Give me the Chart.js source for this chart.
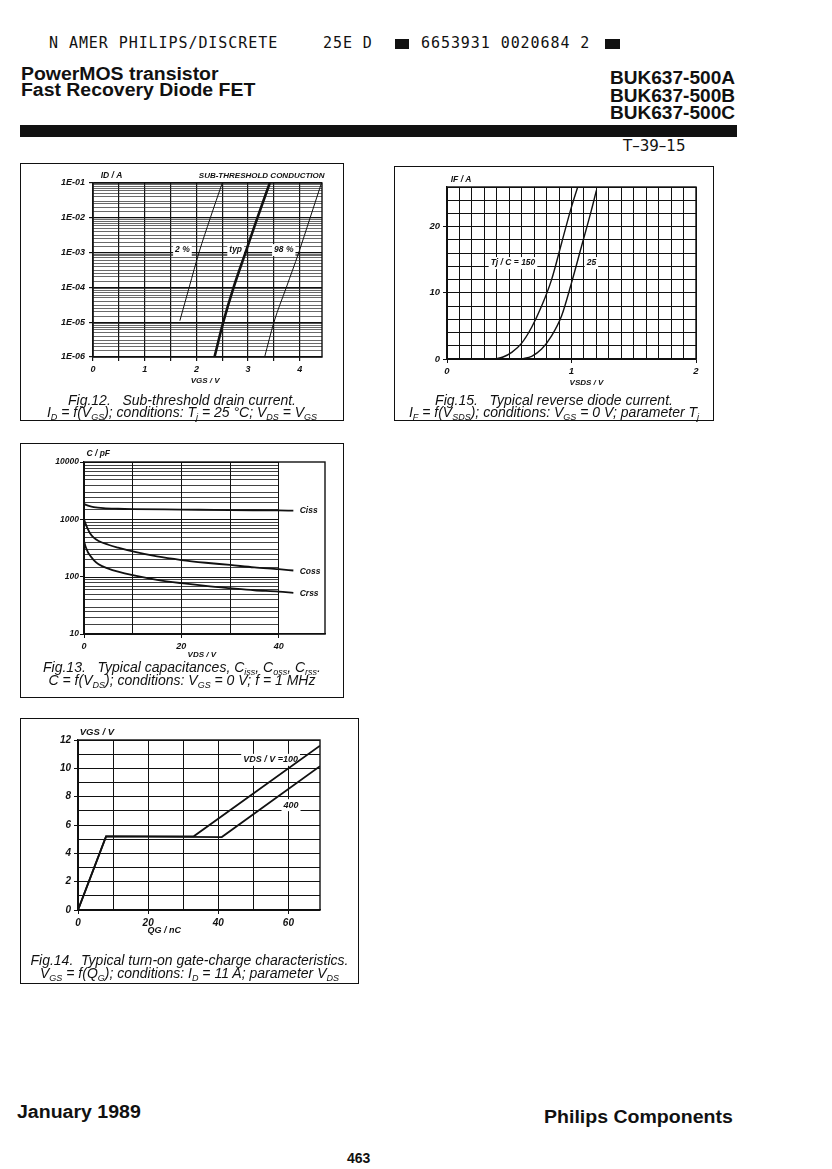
<!DOCTYPE html>
<html>
<head>
<meta charset="utf-8">
<script src="https://cdn.jsdelivr.net/npm/chart.js@4.4.1/dist/chart.umd.min.js"></script>
<style>
body { margin: 0; background: #fff; }
#page { position: relative; width: 832px; height: 1169px; overflow: hidden; background: #fff;
  font-family: 'Liberation Sans', Arial, sans-serif; color: #111; }
.abs { position: absolute; white-space: nowrap; line-height: 1; }
.hd { font-weight: bold; font-size: 17.5px; transform: scaleX(1.11); transform-origin: 0 0; }
.ft { font-weight: bold; font-size: 18px; transform: scaleX(1.085); transform-origin: 0 0; }
.hdr { font-weight: bold; font-size: 18px; transform: scaleX(1.06); transform-origin: 100% 0; text-align: right; }
.dm { font-family: 'DejaVu Sans Mono', monospace; font-size: 15px; letter-spacing: 0.93px; }
.sq { position: absolute; background: #111; }
.box { position: absolute; border: 1.5px solid #111; box-sizing: border-box; }
.cap { position: absolute; font-style: italic; font-size: 14px; text-align: center; line-height: 1; white-space: nowrap; }
.cap sub { font-size: 9px; vertical-align: -3px; line-height: 0; }
canvas { position: absolute; }
</style>
</head>
<body>
<div id="page">
  <div class="abs dm" style="left:49px;top:36px">N AMER PHILIPS/DISCRETE</div>
  <div class="abs dm" style="left:323px;top:36px">25E D</div>
  <div class="sq" style="left:395px;top:39px;width:14px;height:10px"></div>
  <div class="abs dm" style="left:421px;top:36px">6653931 0020684 2</div>
  <div class="sq" style="left:605px;top:39px;width:15px;height:10px"></div>

  <div class="abs hd" style="left:21px;top:66px">PowerMOS transistor</div>
  <div class="abs hd" style="left:21px;top:82px">Fast Recovery Diode FET</div>
  <div class="abs hdr" style="right:97px;top:69px">BUK637-500A</div>
  <div class="abs hdr" style="right:97px;top:87px">BUK637-500B</div>
  <div class="abs hdr" style="right:97px;top:104px">BUK637-500C</div>
  <div class="sq" style="left:20px;top:125px;width:717px;height:12px"></div>
  <div class="abs" style="left:623px;top:138px;font-family:'DejaVu Sans',sans-serif;font-size:16px;transform:scaleX(0.94);transform-origin:0 0">T–39–15</div>

  <div class="box" style="left:20px;top:163px;width:324px;height:258px"></div>
  <div class="box" style="left:394px;top:166px;width:320px;height:255px"></div>
  <div class="box" style="left:20px;top:443px;width:324px;height:255px"></div>
  <div class="box" style="left:20px;top:718px;width:339px;height:266px"></div>

  <canvas id="fig12"></canvas>
  <canvas id="fig15"></canvas>
  <canvas id="fig13"></canvas>
  <canvas id="fig14"></canvas>

  <div class="cap" style="left:20px;width:324px;top:393px">Fig.12.&nbsp;&nbsp; Sub-threshold drain current.</div>
  <div class="cap" style="left:20px;width:324px;top:405px">I<sub>D</sub> = f(V<sub>GS</sub>); conditions: T<sub>j</sub> = 25 °C; V<sub>DS</sub> = V<sub>GS</sub></div>

  <div class="cap" style="left:394px;width:320px;top:393px">Fig.15.&nbsp;&nbsp; Typical reverse diode current.</div>
  <div class="cap" style="left:394px;width:320px;top:405px">I<sub>F</sub> = f(V<sub>SDS</sub>); conditions: V<sub>GS</sub> = 0 V; parameter T<sub>j</sub></div>

  <div class="cap" style="left:20px;width:324px;top:660px">Fig.13.&nbsp;&nbsp; Typical capacitances, C<sub>iss</sub>, C<sub>oss</sub>, C<sub>rss</sub>.</div>
  <div class="cap" style="left:20px;width:324px;top:673px">C = f(V<sub>DS</sub>); conditions: V<sub>GS</sub> = 0 V; f = 1 MHz</div>

  <div class="cap" style="left:20px;width:339px;top:953px">Fig.14.&nbsp; Typical turn-on gate-charge characteristics.</div>
  <div class="cap" style="left:20px;width:339px;top:966px">V<sub>GS</sub> = f(Q<sub>G</sub>); conditions: I<sub>D</sub> = 11 A; parameter V<sub>DS</sub></div>

  <div class="abs ft" style="left:17px;top:1103px">January 1989</div>
  <div class="abs ft" style="left:544px;top:1108px">Philips Components</div>
  <div class="abs" style="left:347px;top:1151px;font-size:14px;font-weight:bold">463</div>
</div>

<script>
// Fig.12 sub-threshold drain current: VGS / V against ID / A
const vgs2 = [1.68, 1.86, 2.05, 2.27, 2.5];
const id2 = [1.1e-5, 1e-4, 1e-3, 1e-2, 1e-1];
const vgsTyp = [2.35, 2.52, 2.72, 2.95, 3.18, 3.42];
const idTyp = [1e-6, 1e-5, 1e-4, 1e-3, 1e-2, 1e-1];
const vgs98 = [3.32, 3.5, 3.74, 3.98, 4.2, 4.42];
const id98 = [1e-6, 1e-5, 1e-4, 1e-3, 1e-2, 1e-1];
const vgsTicks = [0, 0.5, 1, 1.5, 2, 2.5, 3, 3.5, 4];

// Fig.15 reverse diode current: VSDS / V against IF / A
const vsd150 = [0.38, 0.45, 0.52, 0.6, 0.68, 0.76, 0.84, 0.92, 1.0, 1.05];
const if150 = [0, 0.3, 1.0, 2.4, 4.8, 8, 12, 17.5, 23, 26];
const vsd25 = [0.6, 0.68, 0.76, 0.84, 0.92, 1.0, 1.08, 1.16, 1.2];
const if25 = [0, 0.4, 1.5, 3.5, 6.5, 11.5, 17, 22.5, 25.5];

// Fig.13 capacitances: VDS / V against C / pF
const vdsCiss = [0, 0.5, 1, 2, 4, 7, 10, 20, 30, 40, 43];
const ciss = [1850, 1780, 1720, 1640, 1570, 1530, 1510, 1480, 1450, 1430, 1420];
const vdsCoss = [0, 0.3, 0.7, 1.2, 2, 3, 5, 7, 10, 15, 20, 25, 30, 35, 40, 43];
const coss = [1000, 850, 700, 580, 480, 420, 360, 320, 275, 225, 195, 175, 160, 145, 135, 128];
const vdsCrss = [0, 0.3, 0.7, 1, 2, 3, 5, 7, 10, 15, 20, 25, 30, 35, 40, 43];
const crss = [420, 340, 280, 250, 195, 165, 138, 122, 106, 88, 77, 69, 63, 58, 55, 52];
const vdsTicks = [0, 10, 20, 30, 40];

// Fig.14 gate charge: QG / nC against VGS / V
const qg100 = [0, 8, 33, 69];
const vgs100 = [0, 5.2, 5.2, 11.6];
const qg400 = [0, 8, 41, 69];
const vgs400 = [0, 5.2, 5.15, 10.15];

const logMantissa = [1, 1.5, 2, 2.5, 3, 4, 5, 6, 7, 8, 9];

function logGrid(lo, hi) {
  const out = [];
  for (let e = Math.round(Math.log10(lo)); e < Math.round(Math.log10(hi)); e++) {
    logMantissa.forEach(m => out.push(m * Math.pow(10, e)));
  }
  out.push(hi);
  return out;
}
function isDecade(v) {
  const l = Math.log10(v);
  return Math.abs(l - Math.round(l)) < 1e-9;
}
function stepTicks(lo, hi, step) {
  const out = [];
  for (let i = 0; lo + i * step <= hi + 1e-9; i++) out.push(+(lo + i * step).toFixed(4));
  return out;
}
function pts(xs, ys) {
  return xs.map((x, i) => ({ x: x, y: ys[i] }));
}

const FONT = "'Liberation Sans', Arial, sans-serif";
const INK = '#111';
const extras = {};

// frame, partial paper grid and text notes
Chart.register({
  id: 'paper',
  beforeDatasetsDraw(chart) {
    const ex = extras[chart.canvas.id] || {};
    const { ctx, chartArea: a, scales: { x, y } } = chart;
    ctx.save();
    if (ex.hLines) {
      const x0 = x.getPixelForValue(ex.hFrom), x1 = x.getPixelForValue(ex.hTo);
      ex.hLines.forEach(v => {
        const py = Math.round(y.getPixelForValue(v)) + 0.5;
        ctx.strokeStyle = INK;
        ctx.lineWidth = isDecade(v) ? 1.2 : 0.8;
        ctx.beginPath(); ctx.moveTo(x0, py); ctx.lineTo(x1, py); ctx.stroke();
      });
    }
    ctx.strokeStyle = INK;
    ctx.lineWidth = 1.4;
    ctx.strokeRect(a.left, a.top, a.right - a.left, a.bottom - a.top);
    (ex.notes || []).forEach(n => {
      const align = n.align || 'left';
      ctx.font = 'italic bold ' + (n.size || 9) + 'px ' + FONT;
      ctx.textAlign = align;
      ctx.textBaseline = 'middle';
      const px = x.getPixelForValue(n.x) + (n.dx || 0);
      const py = y.getPixelForValue(n.y) + (n.dy || 0);
      if (n.bg) {
        const w = ctx.measureText(n.text).width;
        const lx = align === 'center' ? px - w / 2 : align === 'right' ? px - w : px;
        ctx.fillStyle = '#fff';
        ctx.fillRect(lx - 2, py - 6, w + 4, 12);
      }
      ctx.fillStyle = INK;
      ctx.fillText(n.text, px, py);
    });
    ctx.restore();
  }
});

function mkChart(id, area, datasets, xs, ys, ex) {
  const L = 62, R = 12, T = 26, B = 44;
  const cv = document.getElementById(id);
  cv.width = area.r - area.l + L + R;
  cv.height = area.b - area.t + T + B;
  cv.style.left = (area.l - L) + 'px';
  cv.style.top = (area.t - T) + 'px';
  extras[id] = ex;
  xs.afterFit = s => { s.height = B; };
  ys.afterFit = s => { s.width = L; };
  return new Chart(cv, {
    type: 'scatter',
    data: { datasets: datasets },
    options: {
      responsive: false,
      animation: false,
      events: [],
      layout: { padding: { left: 0, right: R, top: T, bottom: 0 } },
      plugins: { legend: { display: false }, tooltip: { enabled: false } },
      scales: { x: xs, y: ys }
    }
  });
}

function line(data, width, smooth) {
  return {
    data: data, showLine: true, borderColor: INK, borderWidth: width,
    pointRadius: 0, fill: false,
    cubicInterpolationMode: smooth ? 'monotone' : 'default', tension: 0
  };
}
function tickFont(size) {
  return { family: FONT, size: size, style: 'italic', weight: 'bold' };
}
function linAxis(min, max, gridVals, labelVals, size, tickLen) {
  return {
    type: 'linear', min: min, max: max,
    afterBuildTicks: s => { s.ticks = gridVals.map(v => ({ value: v })); },
    ticks: {
      autoSkip: false, maxRotation: 0, padding: 3, color: INK, font: tickFont(size),
      callback: v => labelVals.some(l => Math.abs(l - v) < 1e-9) ? String(v) : ''
    },
    grid: {
      color: INK, lineWidth: 1, tickLength: tickLen,
      tickColor: c => labelVals.some(l => Math.abs(l - c.tick.value) < 1e-9) ? INK : 'rgba(0,0,0,0)'
    },
    border: { color: INK, width: 1.3 }
  };
}

// Fig.12
const y12 = {
  type: 'logarithmic', min: 1e-6, max: 1e-1,
  afterBuildTicks: s => { s.ticks = logGrid(1e-6, 1e-1).map(v => ({ value: v })); },
  ticks: {
    autoSkip: false, padding: 4, color: INK, font: tickFont(9),
    callback: v => isDecade(v) ? '1E-0' + (-Math.round(Math.log10(v))) : ''
  },
  grid: {
    color: c => isDecade(c.tick.value) ? INK : '#2a2a2a',
    lineWidth: c => isDecade(c.tick.value) ? 1.2 : 0.7,
    tickLength: 4,
    tickColor: c => isDecade(c.tick.value) ? INK : 'rgba(0,0,0,0)'
  },
  border: { color: INK, width: 1.3 }
};
const x12 = linAxis(0, 4.43, vgsTicks, [0, 1, 2, 3, 4], 9, 4);
x12.grid.tickColor = INK;
x12.grid.lineWidth = 1.2;
mkChart('fig12', { l: 93, r: 322, t: 183, b: 357 }, [
  line(pts(vgs2, id2), 1, true),
  line(pts(vgsTyp, idTyp), 2.6, true),
  line(pts(vgs98, id98), 1, true)
], x12, y12, {
  notes: [
    { x: 0.15, y: 1e-1, dy: -7, text: 'ID / A', size: 8.5 },
    { x: 4.48, y: 1e-1, dy: -7, text: 'SUB-THRESHOLD CONDUCTION', align: 'right', size: 8 },
    { x: 1.73, y: 1.18e-3, text: '2 %', align: 'center', bg: true, size: 8.5 },
    { x: 2.76, y: 1.18e-3, text: 'typ', align: 'center', bg: true, size: 8.5 },
    { x: 3.69, y: 1.18e-3, text: '98 %', align: 'center', bg: true, size: 8.5 },
    { x: 2.17, y: 1e-6, dy: 24, text: 'VGS / V', align: 'center', size: 8 }
  ]
});

// Fig.15
mkChart('fig15', { l: 447, r: 696, t: 187, b: 359 }, [
  line(pts(vsd150, if150), 1.4, true),
  line(pts(vsd25, if25), 1.4, true)
], linAxis(0, 2, stepTicks(0, 2, 0.1), [0, 1, 2], 9.5, 4),
   linAxis(0, 26, stepTicks(0, 26, 2), [0, 10, 20], 9.5, 4), {
  notes: [
    { x: 0.03, y: 26, dy: -7, text: 'IF / A', size: 8.5 },
    { x: 0.53, y: 14.5, text: 'Tj / C = 150', align: 'center', bg: true, size: 8.5 },
    { x: 1.16, y: 14.5, text: '25', align: 'center', bg: true, size: 8.5 },
    { x: 1.12, y: 0, dy: 24, text: 'VSDS / V', align: 'center', size: 8 }
  ]
});

// Fig.13
const y13 = {
  type: 'logarithmic', min: 10, max: 10000,
  afterBuildTicks: s => { s.ticks = [10, 100, 1000, 10000].map(v => ({ value: v })); },
  ticks: { autoSkip: false, padding: 1, color: INK, font: tickFont(8.5), callback: v => String(v) },
  grid: { color: 'rgba(0,0,0,0)', tickLength: 4, tickColor: INK },
  border: { color: INK, width: 1.3 }
};
mkChart('fig13', { l: 84, r: 325, t: 462, b: 634 }, [
  line(pts(vdsCiss, ciss), 1.8, true),
  line(pts(vdsCoss, coss), 1.8, true),
  line(pts(vdsCrss, crss), 1.8, true)
], linAxis(0, 49.5, vdsTicks, [0, 20, 40], 9, 4), y13, {
  hLines: logGrid(10, 10000), hFrom: 0, hTo: 40,
  notes: [
    { x: 0.5, y: 10000, dy: -8, text: 'C / pF', size: 8.5 },
    { x: 44.3, y: 1400, text: 'Ciss', size: 8.5 },
    { x: 44.3, y: 121, text: 'Coss', size: 8.5 },
    { x: 44.3, y: 50, text: 'Crss', size: 8.5 },
    { x: 24.2, y: 10, dy: 21, text: 'VDS / V', align: 'center', size: 8 }
  ]
});

// Fig.14
mkChart('fig14', { l: 78, r: 320, t: 740, b: 910 }, [
  line(pts(qg100, vgs100), 1.8, false),
  line(pts(qg400, vgs400), 1.8, false)
], linAxis(0, 69, stepTicks(0, 60, 10), [0, 20, 40, 60], 10, 4),
   linAxis(0, 12, stepTicks(0, 12, 1), [0, 2, 4, 6, 8, 10, 12], 10, 4), {
  notes: [
    { x: 0.5, y: 12, dy: -8, text: 'VGS / V', size: 9.5 },
    { x: 47.1, y: 10.6, text: 'VDS / V =100', bg: true, size: 9 },
    { x: 58.6, y: 7.4, text: '400', bg: true, size: 9 },
    { x: 24.6, y: 0, dy: 21, text: 'QG / nC', align: 'center', size: 9 }
  ]
});
</script>
</body>
</html>
